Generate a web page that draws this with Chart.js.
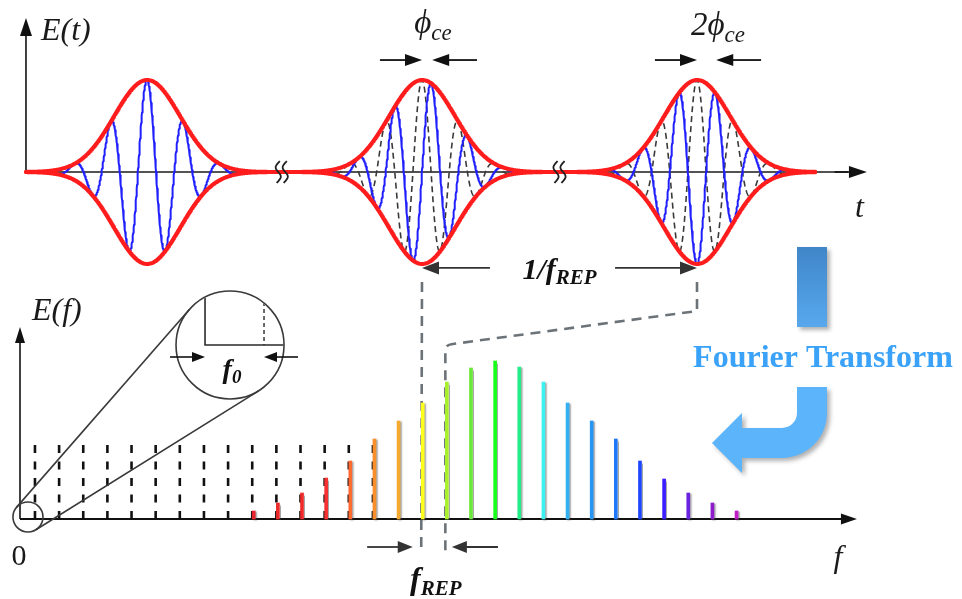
<!DOCTYPE html>
<html>
<head>
<meta charset="utf-8">
<script src="https://cdn.jsdelivr.net/npm/chart.js@4/dist/chart.umd.min.js"></script>
<style>
  html, body { margin: 0; padding: 0; background: #ffffff; }
  canvas { display: block; }
</style>
</head>
<body>
<canvas id="comb" width="962" height="599"></canvas>
<script>
// ---- Time domain: pulse train, time in units of the repetition period 1/f_REP ----
const pulseCenters   = [0, 1, 2];
const pulseCEPhase   = [0, 0.5, 1];     // carrier-envelope phase of each pulse, in units of pi
const pulseAmplitude = 1;
const pulseWidth     = 0.12;            // Gaussian sigma of the envelope
const carrierPeriod  = 0.132;
const carrierHalfSpan = 0.42;           // carrier drawn over center +/- this
const traceStart = -0.44;
const traceEnd   = 2.43;
const breakTimes = [0.49, 1.5];

// ---- Frequency domain: comb lines, frequency in units of f_REP ----
const combOffset  = 0.62;               // f0
const combModes   = [9, 10, 11, 12, 13, 14, 15, 16, 17, 18, 19, 20, 21, 22, 23, 24, 25, 26, 27, 28, 29];
const combHeights = [0.05, 0.10, 0.1625, 0.256, 0.3625, 0.5, 0.6125, 0.725, 0.856, 0.944, 0.9875,
                     0.95, 0.856, 0.725, 0.6125, 0.5, 0.3625, 0.25, 0.1625, 0.10, 0.05];
const combColors  = ['#e8242c', '#ec2828', '#f02a2a', '#f43232', '#ff6a30', '#f88e2c', '#f4aa30',
                     '#ffff1e', '#a8f02c', '#6ae83a', '#1aff1a', '#22ee88', '#3cf2f0', '#32b0f2',
                     '#2696f2', '#1e78f8', '#1e46ff', '#3a1eff', '#6a24e0', '#8e1ccc', '#c21cc8'];
const referenceModes  = [0, 1, 2, 3, 4, 5, 6, 7, 8, 9, 10, 11, 12, 13, 14];
const referenceHeight = 0.475;
const linkedPulses = [1, 2];            // pulses tied to ...
const linkedModes  = [16, 17];          // ... these comb lines by the dashed guides

// ---- derived series ----
function envelope(t) {
  let s = 0;
  for (const c of pulseCenters) s += pulseAmplitude * Math.exp(-((t - c) ** 2) / (2 * pulseWidth ** 2));
  return s;
}
const step = 0.002;
const envUpper = [], envLower = [];
for (let t = traceStart; t <= traceEnd + 1e-9; t += step) {
  envUpper.push({ x: t, y: envelope(t) });
  envLower.push({ x: t, y: -envelope(t) });
}
const carrier = [], carrierRef = [];
pulseCenters.forEach((c, i) => {
  for (let t = c - carrierHalfSpan; t <= c + carrierHalfSpan + 1e-9; t += step / 2) {
    const e = envelope(t);
    carrier.push({ x: t, y: e * Math.cos(2 * Math.PI * (t - c) / carrierPeriod - Math.PI * pulseCEPhase[i]) });
    if (pulseCEPhase[i] !== 0) carrierRef.push({ x: t, y: e * Math.cos(2 * Math.PI * (t - c) / carrierPeriod) });
  }
  carrier.push({ x: c + carrierHalfSpan, y: null });
  if (pulseCEPhase[i] !== 0) carrierRef.push({ x: c + carrierHalfSpan, y: null });
});
const modeFreq = n => combOffset + n;
const combData = combModes.map((n, i) => ({ x: modeFreq(n), y: combHeights[i] }));
const refData = [];
referenceModes.forEach(n => {
  refData.push({ x: modeFreq(n), y: 0 }, { x: modeFreq(n), y: referenceHeight }, { x: modeFreq(n), y: null });
});

// ---- drawing helpers ----
const SERIF = '"Liberation Serif", "Times New Roman", "DejaVu Serif", serif';

function arrow(ctx, x1, y1, x2, y2, color, lw, hl, hw) {
  const a = Math.atan2(y2 - y1, x2 - x1);
  const bx = x2 - hl * Math.cos(a), by = y2 - hl * Math.sin(a);
  ctx.strokeStyle = color; ctx.fillStyle = color; ctx.lineWidth = lw; ctx.setLineDash([]);
  ctx.beginPath(); ctx.moveTo(x1, y1); ctx.lineTo(bx + Math.cos(a), by + Math.sin(a)); ctx.stroke();
  ctx.beginPath();
  ctx.moveTo(x2, y2);
  ctx.lineTo(bx - hw * Math.sin(a), by + hw * Math.cos(a));
  ctx.lineTo(bx + hw * Math.sin(a), by - hw * Math.cos(a));
  ctx.closePath(); ctx.fill();
}

// parts: [text, font, baseline shift]
function richText(ctx, parts, x, y, align, color) {
  ctx.fillStyle = color; ctx.textBaseline = 'alphabetic'; ctx.textAlign = 'left';
  let w = 0;
  parts.forEach(p => { ctx.font = p[1]; w += ctx.measureText(p[0]).width + (p[3] || 0); });
  let cx = align === 'center' ? x - w / 2 : x;
  parts.forEach(p => { ctx.font = p[1]; ctx.fillText(p[0], cx, y + (p[2] || 0)); cx += ctx.measureText(p[0]).width + (p[3] || 0); });
}

function breakMark(ctx, cx, cy) {
  ctx.strokeStyle = '#222'; ctx.lineWidth = 1.8; ctx.setLineDash([]);
  [-3.5, 3.5].forEach(dx => {
    ctx.beginPath();
    for (let s = 0; s <= 1.0001; s += 0.05) {
      const px = cx + dx + 2.6 * Math.cos(Math.PI * 0.3 + 2.4 * Math.PI * s);
      const py = cy - 11 + 22 * s;
      s === 0 ? ctx.moveTo(px, py) : ctx.lineTo(px, py);
    }
    ctx.stroke();
  });
}

const diagram = {
  id: 'diagram',
  beforeDatasetsDraw(chart) {
    const { ctx } = chart;
    const S = chart.scales;
    const tx = v => S.xt.getPixelForValue(v), ey = v => S.yE.getPixelForValue(v);
    const fx = v => S.xf.getPixelForValue(v), ay = v => S.yA.getPixelForValue(v);
    ctx.save();
    ctx.lineCap = 'butt';
    // time axes
    ctx.strokeStyle = '#1a1a1a'; ctx.lineWidth = 1.6;
    ctx.beginPath(); ctx.moveTo(tx(-0.44), ey(0)); ctx.lineTo(tx(2.55), ey(0)); ctx.stroke();
    arrow(ctx, tx(-0.44), ey(0), tx(-0.44), ey(1.674), '#111', 1.6, 18, 6);
    arrow(ctx, tx(2.5), ey(0), tx(2.618), ey(0), '#111', 1.6, 18, 6);
    // frequency axes
    arrow(ctx, fx(0), ay(0), fx(0), ay(1.2), '#111', 1.6, 16, 5);
    arrow(ctx, fx(0), ay(0), fx(34.67), ay(0), '#111', 2, 16, 5.5);

    // dashed guides from the pulses down to their comb lines
    ctx.strokeStyle = '#6b7379'; ctx.lineWidth = 2.6; ctx.setLineDash([10, 7]);
    ctx.lineJoin = 'round';
    ctx.beginPath();
    ctx.moveTo(tx(pulseCenters[linkedPulses[0]]), ey(-1.196));
    ctx.lineTo(fx(modeFreq(linkedModes[0])), ay(-0.21));
    ctx.stroke();
    ctx.beginPath();
    ctx.moveTo(tx(pulseCenters[linkedPulses[1]]), ey(-1.196));
    ctx.lineTo(tx(pulseCenters[linkedPulses[1]]), ay(1.3));
    ctx.lineTo(fx(modeFreq(linkedModes[1])) + 6, ay(1.0875) - 0.8);
    ctx.quadraticCurveTo(fx(modeFreq(linkedModes[1])), ay(1.0875), fx(modeFreq(linkedModes[1])), ay(1.0875) + 6);
    ctx.lineTo(fx(modeFreq(linkedModes[1])), ay(-0.21));
    ctx.stroke();
    ctx.restore();
  },
  beforeDatasetDraw(chart, args) {
    const ds = chart.data.datasets[args.index];
    chart.ctx.save();
    if (ds.label === 'comb lines') {
      chart.ctx.shadowColor = 'rgba(60,60,60,0.45)';
      chart.ctx.shadowOffsetX = 1.5; chart.ctx.shadowOffsetY = 1; chart.ctx.shadowBlur = 1.5;
    }
  },
  afterDatasetDraw(chart) { chart.ctx.restore(); },
  afterDatasetsDraw(chart) {
    const { ctx } = chart;
    const S = chart.scales;
    const tx = v => S.xt.getPixelForValue(v), ey = v => S.yE.getPixelForValue(v);
    const fx = v => S.xf.getPixelForValue(v), ay = v => S.yA.getPixelForValue(v);
    ctx.save();

    breakTimes.forEach(t => breakMark(ctx, tx(t), ey(0)));

    // axis labels
    richText(ctx, [['E(t)', `italic 32px ${SERIF}`]], tx(-0.3855), ey(1.435), 'left', '#1a1a1a');
    richText(ctx, [['t', `italic 32px ${SERIF}`]], tx(2.5745), ey(-0.489), 'left', '#1a1a1a');
    richText(ctx, [['E(f)', `italic 32px ${SERIF}`]], fx(0.497), ay(1.244), 'left', '#1a1a1a');
    richText(ctx, [['0', `30px ${SERIF}`]], fx(-0.041), ay(-0.2875), 'center', '#1a1a1a');
    richText(ctx, [['f', `italic 32px ${SERIF}`]], fx(33.7), ay(-0.3), 'left', '#1a1a1a');

    // carrier-envelope phase slip markers
    const y60 = ey(1.217);
    [1, 2].forEach(pi => {
      const c = pulseCenters[pi];
      const shift = carrierPeriod * pulseCEPhase[pi] / 2;
      arrow(ctx, tx(c - 0.153), y60, tx(c), y60, '#111', 1.8, 17, 6);
      arrow(ctx, tx(c + shift + 0.167), y60, tx(c + shift + 0.004), y60, '#111', 1.8, 17, 6);
    });
    richText(ctx, [['\u03D5', `italic 33px ${SERIF}`], ['ce', `italic 23px ${SERIF}`, 7]],
      tx(1.04), ey(1.511), 'center', '#1a1a1a');
    richText(ctx, [['2\u03D5', `italic 33px ${SERIF}`], ['ce', `italic 23px ${SERIF}`, 7]],
      tx(2.076), ey(1.49), 'center', '#1a1a1a');

    // repetition period
    const yR = ey(-1.043);
    arrow(ctx, tx(1.247), yR, tx(pulseCenters[1]), yR, '#333', 1.8, 17, 6.5);
    arrow(ctx, tx(1.702), yR, tx(pulseCenters[2]), yR, '#333', 1.8, 17, 6.5);
    richText(ctx, [['1/f', `italic bold 30px ${SERIF}`], ['REP', `italic bold 21px ${SERIF}`, 5]],
      tx(1.5), ey(-1.163), 'center', '#111');

    // repetition rate in the comb
    const yF = ay(-0.175);
    arrow(ctx, fx(14.38), yF, fx(modeFreq(linkedModes[0]) - 0.35), yF, '#333', 1.8, 15, 6);
    arrow(ctx, fx(19.8), yF, fx(modeFreq(linkedModes[1]) + 0.27), yF, '#333', 1.8, 15, 6);
    richText(ctx, [['f', `italic bold 32px ${SERIF}`], ['REP', `italic bold 21px ${SERIF}`, 6]],
      fx(16.155), ay(-0.4375), 'left', '#111');

    // magnified view of the origin
    const sc = { x: fx(0.33), y: ay(0.0125), r: 15 };
    const bc = { x: fx(8.70), y: ay(1.0875), r: 54 };
    ctx.strokeStyle = '#3a3a3a'; ctx.lineWidth = 1.6; ctx.setLineDash([]);
    ctx.beginPath(); ctx.arc(sc.x, sc.y, sc.r, 0, 2 * Math.PI); ctx.stroke();
    ctx.beginPath(); ctx.arc(bc.x, bc.y, bc.r, 0, 2 * Math.PI); ctx.stroke();
    const dx = bc.x - sc.x, dy = bc.y - sc.y, d = Math.hypot(dx, dy);
    const ux = dx / d, uy = dy / d, ca = -(bc.r - sc.r) / d, sa = Math.sqrt(1 - ca * ca);
    [1, -1].forEach(sg => {
      const nx = ca * ux + sg * sa * (-uy), ny = ca * uy + sg * sa * ux;
      ctx.beginPath();
      ctx.moveTo(sc.x + sc.r * nx, sc.y + sc.r * ny);
      ctx.lineTo(bc.x + bc.r * nx, bc.y + bc.r * ny);
      ctx.stroke();
    });
    ctx.save();
    ctx.beginPath(); ctx.arc(bc.x, bc.y, bc.r - 0.8, 0, 2 * Math.PI); ctx.clip();
    ctx.strokeStyle = '#2a2a2a'; ctx.lineWidth = 1.6;
    ctx.beginPath(); ctx.moveTo(bc.x - 25, bc.y - 60); ctx.lineTo(bc.x - 25, bc.y); ctx.lineTo(bc.x + 60, bc.y); ctx.stroke();
    ctx.setLineDash([4, 3]); ctx.lineWidth = 1.4;
    ctx.beginPath(); ctx.moveTo(bc.x + 34, bc.y - 50); ctx.lineTo(bc.x + 34, bc.y); ctx.stroke();
    ctx.restore();
    arrow(ctx, bc.x - 60, bc.y + 12, bc.x - 25, bc.y + 12, '#111', 1.6, 13, 5);
    arrow(ctx, bc.x + 68, bc.y + 12, bc.x + 34, bc.y + 12, '#111', 1.6, 13, 5);
    richText(ctx, [['f', `italic bold 28px ${SERIF}`], ['0', `italic bold 19px ${SERIF}`, 5]],
      bc.x + 2, bc.y + 33, 'center', '#111');

    // Fourier transform arrow, placed right of the last pulse
    const L = tx(2.3636), T = ey(0) - 172;
    ctx.save();
    ctx.shadowColor = 'rgba(0,0,0,0.3)'; ctx.shadowOffsetX = 3; ctx.shadowOffsetY = 3; ctx.shadowBlur = 4;
    const g = ctx.createLinearGradient(0, T + 247, 0, T + 327);
    g.addColorStop(0, '#3f86c8'); g.addColorStop(1, '#58a8ee');
    ctx.fillStyle = g;
    ctx.fillRect(L, T + 247, 30, 80);
    ctx.fillStyle = '#5cb4fb';
    ctx.beginPath();
    ctx.moveTo(L, T + 387); ctx.lineTo(L + 30, T + 387); ctx.lineTo(L + 30, T + 413);
    ctx.arc(L - 15, T + 413, 45, 0, Math.PI / 2);
    ctx.lineTo(L - 55, T + 458); ctx.lineTo(L - 55, T + 473); ctx.lineTo(L - 85, T + 443);
    ctx.lineTo(L - 55, T + 413); ctx.lineTo(L - 55, T + 428); ctx.lineTo(L - 15, T + 428);
    ctx.arc(L - 15, T + 413, 15, Math.PI / 2, 0, true);
    ctx.closePath(); ctx.fill();
    ctx.restore();
    richText(ctx, [['Fourier Transform', `bold 32px ${SERIF}`]], L + 26, T + 367, 'center', '#3aa2f8');

    ctx.restore();
  }
};

const lineBase = { pointRadius: 0, pointHoverRadius: 0, tension: 0, fill: false, borderCapStyle: 'round', borderJoinStyle: 'round' };

new Chart(document.getElementById('comb'), {
  type: 'line',
  data: {
    datasets: [
      { ...lineBase, label: 'envelope +', data: envUpper, xAxisID: 'xt', yAxisID: 'yE', borderColor: '#ff1c1c', borderWidth: 4, order: 1 },
      { ...lineBase, label: 'envelope -', data: envLower, xAxisID: 'xt', yAxisID: 'yE', borderColor: '#ff1c1c', borderWidth: 4, order: 1 },
      { ...lineBase, label: 'carrier', data: carrier, xAxisID: 'xt', yAxisID: 'yE', borderColor: '#1f1fff', borderWidth: 2, order: 2 },
      { ...lineBase, label: 'carrier (no slip)', data: carrierRef, xAxisID: 'xt', yAxisID: 'yE', borderColor: '#3a3a3a', borderWidth: 1.6, borderDash: [6, 4], borderCapStyle: 'butt', order: 3 },
      { type: 'bar', label: 'comb lines', data: combData, xAxisID: 'xf', yAxisID: 'yA', backgroundColor: combColors, borderWidth: 0, barThickness: 3, order: 4 },
      { ...lineBase, label: 'reference comb', data: refData, xAxisID: 'xf', yAxisID: 'yA', borderColor: '#111111', borderWidth: 2.6, borderDash: [8, 8.5], borderCapStyle: 'butt', order: 5 }
    ]
  },
  options: {
    responsive: false,
    animation: false,
    devicePixelRatio: 1,
    layout: { padding: 0 },
    plugins: { legend: { display: false }, tooltip: { enabled: false }, title: { display: false } },
    events: [],
    scales: {
      xt: { type: 'linear', display: false, offset: false, min: -0.5345, max: 2.9636 },
      yE: { type: 'linear', display: false, offset: false, min: -4.6413, max: 1.8696 },
      xf: { type: 'linear', display: false, offset: false, min: -0.8285, max: 39.022 },
      yA: { type: 'linear', display: false, offset: false, min: -0.5, max: 3.24375 }
    }
  },
  plugins: [diagram]
});
</script>
</body>
</html>
